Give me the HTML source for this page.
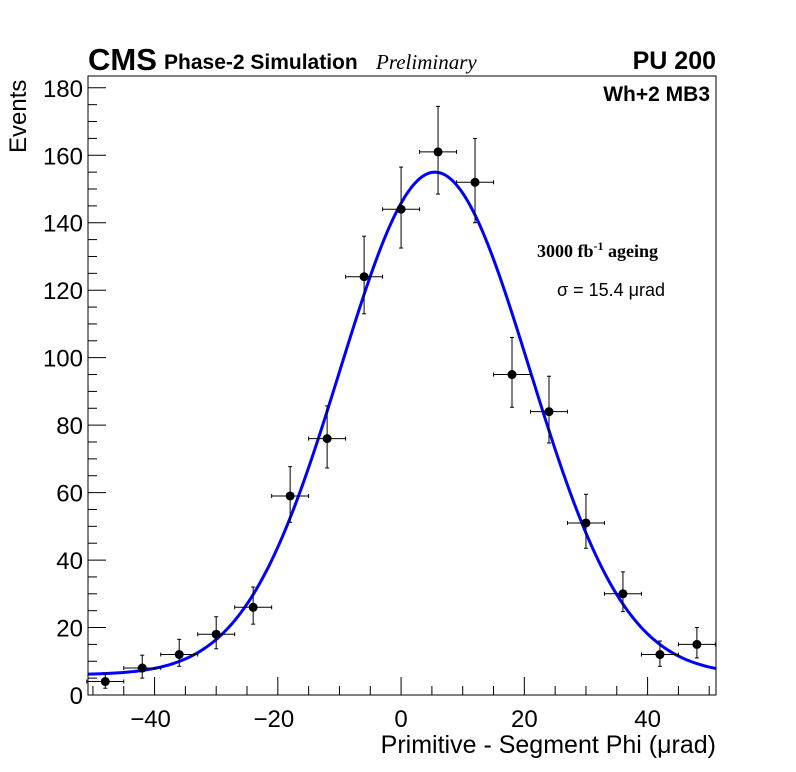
<!DOCTYPE html>
<html><head><meta charset="utf-8"><style>
html,body{margin:0;padding:0;background:#fff;}
svg{display:block;font-family:"Liberation Sans",sans-serif;}
</style></head><body>
<svg id="chart" width="796" height="772" viewBox="0 0 796 772">
<rect x="0" y="0" width="796" height="772" fill="#fff"/>
<g id="ticks"></g>
<g id="curve"></g>
<g id="points"></g>
<rect x="88" y="76" width="628" height="619" fill="none" stroke="#000" stroke-width="1"/>
<text x="88" y="70" font-size="31" font-weight="bold">CMS</text>
<text x="164" y="69" font-size="21" font-weight="bold">Phase-2 Simulation</text>
<text x="376" y="69" font-size="21" font-style="italic" font-family="Liberation Serif,serif">Preliminary</text>
<text x="716" y="69" font-size="25" font-weight="bold" text-anchor="end">PU 200</text>
<text x="710" y="101" font-size="21" font-weight="bold" text-anchor="end">Wh+2 MB3</text>
<text x="537" y="257" font-size="18" font-weight="bold" font-family="Liberation Serif,serif">3000 fb<tspan dy="-7" font-size="12">-1</tspan><tspan dy="7"> ageing</tspan></text>
<text x="557" y="296" font-size="18">σ = 15.4 μrad</text>
<text x="716" y="753" font-size="25" text-anchor="end">Primitive - Segment Phi (μrad)</text>
<text transform="translate(26,153) rotate(-90)" font-size="24">Events</text>
</svg>
<script>
const binCenters=[-48,-42,-36,-30,-24,-18,-12,-6,0,6,12,18,24,30,36,42,48];
const counts=[4,8,12,18,26,59,76,124,144,161,152,95,84,51,30,12,15];
const errUp=[2.5,3.8,4.5,5.2,6,8.7,9.7,12,12.5,13.5,13,11,10.5,8.5,6.5,4,5];
const errDown=[2,3,3.5,4.3,5,7.8,8.7,11,11.5,12.5,12,9.7,9.3,7.5,5.3,3.5,4];
const fitAmp=[149], fitMean=[5.5], fitSigma=[15.4], fitBkg=[6];
const xTicks=[-40,-20,0,20,40];
const yTicks=[0,20,40,60,80,100,120,140,160,180];
const X0=-50.8,X1=51.1,Y0=0,Y1=183.5,L=88,R=716,T=76,B=695;
const xs=v=>L+(v-X0)/(X1-X0)*(R-L);
const ys=v=>B-(v-Y0)/(Y1-Y0)*(B-T);
const NS="http://www.w3.org/2000/svg";
function mk(tag,attrs,parent){const e=document.createElementNS(NS,tag);for(const k in attrs)e.setAttribute(k,attrs[k]);parent.appendChild(e);return e;}
const tk=document.getElementById('ticks');
for(let v=-50;v<=50;v+=5){const maj=v%20===0;const ln=mk('line',{x1:xs(v),x2:xs(v),y1:B,y2:B-(maj?18:9),stroke:'#000'},tk);

}
xTicks.forEach(v=>{const t=mk('text',{x:xs(v)-(v<0?4:0),y:B+32,'font-size':24,'text-anchor':'middle'},tk);t.textContent=v<0?'\u2212'+(-v):String(v);

});
for(let v=0;v<=180;v+=5){const maj=v%20===0;const ln=mk('line',{x1:L,x2:L+(maj?18:9),y1:ys(v),y2:ys(v),stroke:'#000'},tk);

}
yTicks.forEach(v=>{const t=mk('text',{x:L-5,y:ys(v)+9,'font-size':24,'text-anchor':'end'},tk);t.textContent=v;

});
const cv=document.getElementById('curve');let d='';
for(let i=0;i<=300;i++){const x=X0+(X1-X0)*i/300;const y=fitBkg[0]+fitAmp[0]*Math.exp(-Math.pow(x-fitMean[0],2)/(2*fitSigma[0]*fitSigma[0]));d+=(i?'L':'M')+xs(x).toFixed(2)+','+ys(y).toFixed(2);}
const p=mk('path',{d:d,fill:'none',stroke:'#0000ff','stroke-width':3},cv);


const pg=document.getElementById('points');
binCenters.forEach((c,i)=>{const g=mk('g',{},pg);


const cx=xs(c),cy=ys(counts[i]),xl=xs(c-3),xr=xs(c+3),yt=ys(counts[i]+errUp[i]),yb=ys(counts[i]-errDown[i]);
mk('line',{x1:xl,x2:xr,y1:cy,y2:cy,stroke:'#000'},g);
mk('line',{x1:xl,x2:xl,y1:cy-2,y2:cy+2,stroke:'#000'},g);
mk('line',{x1:xr,x2:xr,y1:cy-2,y2:cy+2,stroke:'#000'},g);
mk('line',{x1:cx,x2:cx,y1:yt,y2:yb,stroke:'#000'},g);
mk('line',{x1:cx-2,x2:cx+2,y1:yt,y2:yt,stroke:'#000'},g);
mk('line',{x1:cx-2,x2:cx+2,y1:yb,y2:yb,stroke:'#000'},g);
mk('circle',{cx:cx,cy:cy,r:4.5,fill:'#000'},g);});
</script>
</body></html>
